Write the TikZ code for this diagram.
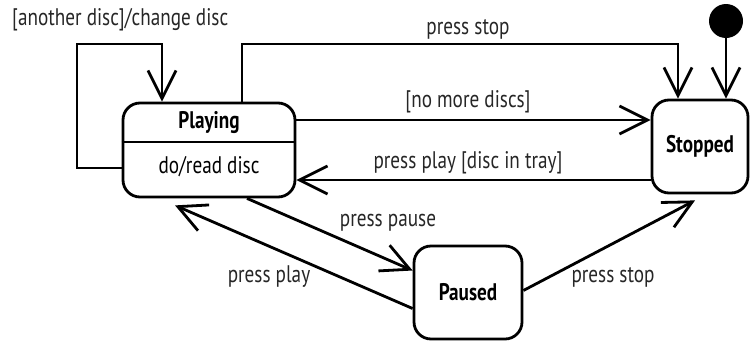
\documentclass[tikz,border=0pt]{standalone}
\usepackage{fontspec}
\setmainfont{PT Sans}[FakeStretch=0.8]
\usetikzlibrary{arrows.meta,calc}
\begin{document}
\begin{tikzpicture}[x=1pt,y=-1pt,
  every node/.style={font=\fontsize{24}{26}\selectfont},
  statebox/.style={draw,line width=2.8pt,rounded corners=17pt,inner sep=0pt},
  lbl/.style={text=black!85,inner sep=0pt},
  boxtxt/.style={font=\fontsize{24}{26}\selectfont\bfseries,inner sep=0pt},
  arr/.style={line width=2.8pt,-{Straight Barb[length=28pt,width=28pt,line width=2.8pt]}},
  conn/.style={line width=2.8pt}]
\useasboundingbox (0,0) rectangle (751,343);
% states
\node[statebox,minimum width=172pt,minimum height=94pt] (playing) at (209,150) {};
\node[boxtxt] (ptitle) at (209,123) {Playing};
\node[lbl,text=black] (pdo) at (209,167) {do/read disc};
\draw[conn] (playing.west |- 0,142) coordinate (divl) -- (playing.east |- 0,142) coordinate (divr);
\node[statebox,minimum width=96pt,minimum height=93pt] (stopped) at (700,146.5) {};
\node[boxtxt] (stxt) at (700,146.5) {Stopped};
\node[statebox,minimum width=108pt,minimum height=93pt] (paused) at (468,292.5) {};
\node[boxtxt] (patxt) at (468,292.5) {Paused};
\node[circle,fill=black,minimum size=34pt,inner sep=0pt] (init) at (726,21) {};
% coordinates for bends
\coordinate (lA) at (77,44);
\coordinate (lB) at (162,44);
\coordinate (sA) at (242,44);
\coordinate (sB) at (678,44);
% self loop
\draw[arr] ([yshift=-18pt]playing.west) -| (lA) -- (lB) -- (lB |- playing.north);
\node[lbl,anchor=west] (loopl) at (12,20) {[another disc]/change disc};
% press stop (top)
\draw[arr] (sA |- playing.north) -- (sA) -- (sB) -- (sB |- stopped.north);
\node[lbl] (pstop1) at (468,29) {press stop};
% initial
\draw[arr] (init) -- (init |- stopped.north);
% no more discs
\draw[arr] ([yshift=30pt]playing.east) -- ([yshift=30pt]playing.east -| stopped.west);
\node[lbl] (nomore) at (468,102) {[no more discs]};
% press play [disc in tray]
\draw[arr] ([yshift=-33.5pt]stopped.west) -- ([yshift=-33.5pt]stopped.west -| playing.east);
\node[lbl] (pplay1) at (468,163) {press play [disc in tray]};
% press pause
\draw[arr] ([xshift=38pt]playing.south) -- ([yshift=22pt]paused.west);
\node[lbl] (ppause) at (388,223) {press pause};
% press play
\draw[arr] ([yshift=-16pt]paused.west) -- ([xshift=-34pt,yshift=-7pt]playing.south);
\node[lbl] (pplay2) at (269,277) {press play};
% press stop (bottom)
\draw[arr] ([yshift=2pt]paused.east) -- ([xshift=-5pt,yshift=-6pt]stopped.south);
\node[lbl] (pstop2) at (613,277) {press stop};
\end{tikzpicture}
\end{document}
